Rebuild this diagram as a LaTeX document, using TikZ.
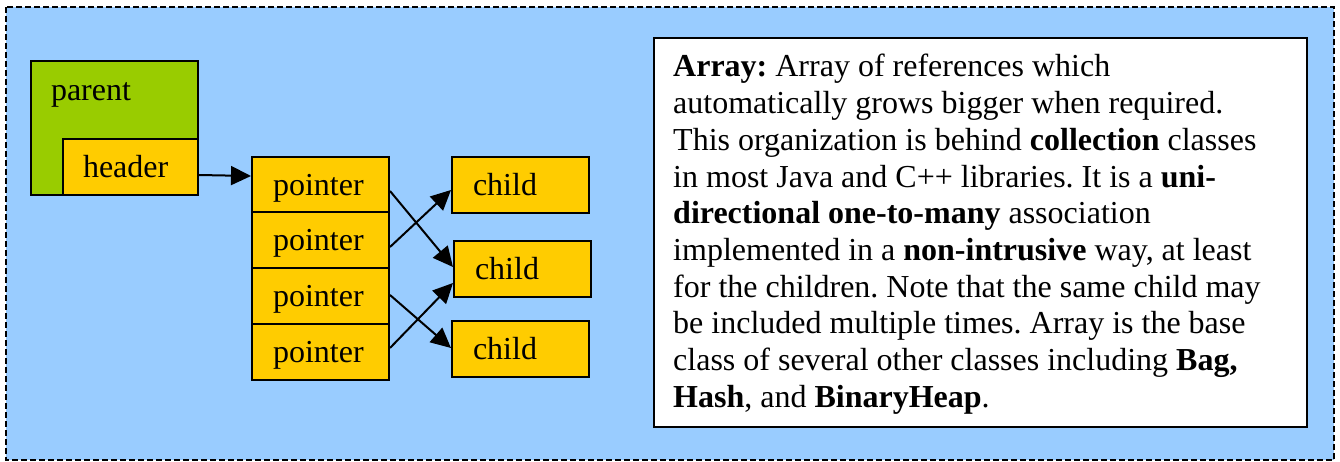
\documentclass[tikz,border=0pt]{standalone}
\usepackage{fontspec}
\setmainfont{Liberation Serif}
\usetikzlibrary{arrows.meta}
\definecolor{bgblue}{HTML}{99CCFF}
\definecolor{objgreen}{HTML}{99CC00}
\definecolor{slotgold}{HTML}{FFCC00}
\frenchspacing

\begin{document}
\begin{tikzpicture}[x=1pt,y=-1pt,
  every node/.style={font=\fontsize{32}{36.67}\selectfont},
  cell/.style={draw=black, line width=2pt, fill=slotgold, anchor=north west,
    inner xsep=21pt, inner ysep=0pt, text width=95pt, align=left,
    text height=38.5pt, text depth=17.5pt},
  link/.style={line width=2pt, -{Triangle[length=20pt,width=19pt]}},
]
\useasboundingbox (0,0) rectangle (1340,462);

% frame
\draw[fill=bgblue, line width=2pt, dash pattern=on 6pt off 3pt] (6,7) rectangle (1334,460);

% parent object with its embedded header
\node[draw=black, line width=2pt, fill=objgreen, anchor=north west,
  inner xsep=20pt, inner ysep=0pt, text width=127pt, align=left,
  text height=40pt, text depth=94pt] (parent) at (30,60) {parent};
\node[cell, inner xsep=20pt, text height=39pt, text depth=17pt] (header) at (62,138) {header};

% array of pointers
\node[cell] (p1) at (251,156) {pointer};
\node[cell] (p2) at (251,211.5) {pointer};
\node[cell] (p3) at (251,267) {pointer};
\node[cell] (p4) at (251,322.5) {pointer};

% children
\node[cell] (c1) at (451,156) {child};
\node[cell] (c2) at (453,240) {child};
\node[cell] (c3) at (451,320) {child};

% references
\draw[link] ([yshift=-8pt]header.east) -- ([yshift=9pt]p1.west);
\draw[link] ([yshift=-6pt]p1.east) -- ([yshift=2pt]c2.west);
\draw[link] ([yshift=-6.5pt]p2.east) -- ([yshift=-5pt]c1.west);
\draw[link] ([yshift=1pt]p3.east) -- ([yshift=1pt]c3.west);
\draw[link] ([yshift=3.5pt]p4.east) -- ([yshift=-14pt]c2.west);

% description
\node[draw=black, line width=2pt, fill=white, anchor=north west,
  minimum width=653pt, minimum height=389pt, inner sep=0pt] (note) at (653,37) {};
\node[anchor=base west, inner sep=0pt] (notetext) at (673,77) {\parbox[t]{620pt}{\raggedright
\textbf{Array:} Array of references which\\
automatically grows bigger when required.\\
This organization is behind \textbf{collection} classes\\
in most Java and C++ libraries. It is a \textbf{uni-}\\
\textbf{directional one-to-many} association\\
implemented in a \textbf{non-intrusive} way, at least\\
for the children. Note that the same child may\\
be included multiple times. Array is the base\\
class of several other classes including \textbf{Bag,}\\
\textbf{Hash}, and \textbf{BinaryHeap}.}};
\end{tikzpicture}
\end{document}
